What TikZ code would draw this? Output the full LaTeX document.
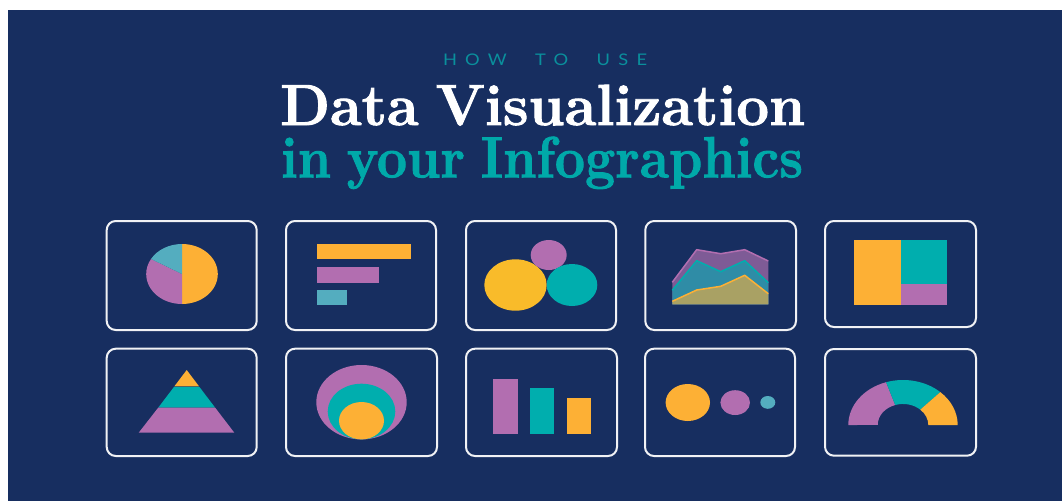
\documentclass[tikz,border=0pt]{standalone}
\usepackage{fontspec}
\usepackage{graphicx}
\setmainfont{Latin Modern Roman}
\newfontfamily\titlefont[BoldFeatures={FakeBold=1.6}]{Latin Modern Roman}
\newfontfamily\kickerfont[LetterSpace=45,WordSpace=2.2]{Lato}
\definecolor{navy}{HTML}{172E60}
\definecolor{vorange}{HTML}{FDB035}
\definecolor{vyellow}{HTML}{F9BB2A}
\definecolor{vpurple}{HTML}{B26EB0}
\definecolor{vteal}{HTML}{00AEAE}
\definecolor{vsky}{HTML}{54ADBF}
\definecolor{titleteal}{HTML}{00A9A9}
\definecolor{kicker}{HTML}{0A8F9C}
\definecolor{areapurple}{HTML}{7E5B96}
\definecolor{areateal}{HTML}{2F8CA6}
\definecolor{areaorange}{HTML}{A9A164}
\tikzset{
  x=1pt,y=-1pt,
  card/.style={draw=white!94!navy,line width=2pt,rounded corners=9pt},
  titletext/.style={inner sep=0pt,anchor=base,font=\titlefont\bfseries\fontsize{58}{58}\selectfont},
  arealine/.style={line width=1.5pt,line join=round},
}
\begin{document}
\begin{tikzpicture}
\useasboundingbox (0,0) rectangle (1062,501);
\fill[white] (0,0) rectangle (1062,501);
\fill[navy] (8,10) rectangle (1062,501);

% titles
\node[inner sep=0pt,anchor=base,text=kicker,font=\kickerfont\fontsize{16}{16}\selectfont] (kick) at (545,65) {\resizebox{204pt}{\height}{HOW TO USE}};
\node[titletext,text=white] (title) at (542.7,125) {\resizebox{525pt}{\height}{Data\hspace{-0.08em} Visualization}};
\node[titletext,text=titleteal] (sub) at (542,177.3) {\resizebox{522pt}{\height}{in\hspace{-0.08em} your\hspace{-0.08em} Infographics}};

% cards
\foreach \xa/\xb/\ya/\yb in {106.7/256.7/221/330, 286/436/221/330, 466/616/221/330, 645.3/796/221/330, 825/976/221/327,
  106.7/256.7/348.7/456, 286/437/348.7/456, 466/617/348.7/456, 645/795/348.7/456, 825/976/349/455.7}
  \draw[card] (\xa,\ya) rectangle (\xb,\yb);

% pie
\begin{scope}[shift={(182,274)}]
  \fill[vorange] (0,0) -- (0,-30) arc[start angle=90,end angle=-90,x radius=35.8,y radius=-30] -- cycle;
  \fill[vpurple] (0,0) -- (0,30) arc[start angle=-90,end angle=-210,x radius=35.8,y radius=-30] -- cycle;
  \fill[vsky] (0,0) -- (-31,-15) arc[start angle=150,end angle=90,x radius=35.8,y radius=-30] -- cycle;
\end{scope}

% horizontal bars
\fill[vorange] (317,243.7) rectangle (411.3,259);
\fill[vpurple] (317,267) rectangle (378.7,282.7);
\fill[vsky] (317,289.7) rectangle (347.3,305);

% bubbles
\fill[vyellow] (515.5,285) ellipse[x radius=31.2,y radius=25.7];
\fill[vpurple] (548.7,255) ellipse[x radius=18,y radius=15];
\fill[vteal] (572,285) ellipse[x radius=25.3,y radius=21];

% stacked area
\fill[areapurple] (672.3,304.3) -- (672.3,282.3) -- (696.7,249.7) -- (720.7,253.7) -- (744.7,249.7) -- (768.3,261) -- (768.3,304.3) -- cycle;
\fill[areateal] (672.3,304.3) -- (672.3,290.3) -- (696.7,260.7) -- (720.7,271.7) -- (744.7,260.7) -- (768.3,282.7) -- (768.3,304.3) -- cycle;
\fill[areaorange] (672.3,304.3) -- (672.3,301.3) -- (696.7,290) -- (720.7,286.3) -- (744.7,275.3) -- (768.3,293.7) -- (768.3,304.3) -- cycle;
\draw[arealine,vpurple] (672.3,282.3) -- (696.7,249.7) -- (720.7,253.7) -- (744.7,249.7) -- (768.3,261);
\draw[arealine,vteal] (672.3,290.3) -- (696.7,260.7) -- (720.7,271.7) -- (744.7,260.7) -- (768.3,282.7);
\draw[arealine,vorange] (672.3,301.3) -- (696.7,290) -- (720.7,286.3) -- (744.7,275.3) -- (768.3,293.7);

% treemap
\fill[white!70!vteal] (900.7,240) rectangle (901.4,305.3);
\fill[white!70!vteal] (901.4,283.6) rectangle (946.7,284.4);
\fill[vorange] (854.3,240) rectangle (900.7,305.3);
\fill[vteal] (901.4,240) rectangle (946.7,283.6);
\fill[vpurple] (901.4,284.4) rectangle (946.7,305.3);

% pyramid
\fill[vorange] (186.7,370) -- (174.3,386.4) -- (199.1,386.4) -- cycle;
\fill[vteal] (174,386.9) -- (199.4,386.9) -- (215.2,407.7) -- (158.2,407.7) -- cycle;
\fill[vpurple] (158.2,407.7) -- (215.2,407.7) -- (234.3,432.7) -- (138.7,432.7) -- cycle;

% nested ellipses
\fill[vpurple] (361.5,402.2) ellipse[x radius=45.2,y radius=37.2];
\fill[vteal] (361.5,411.5) ellipse[x radius=33.8,y radius=27.8];
\fill[vorange] (361.5,420.7) ellipse[x radius=22.5,y radius=18.7];

% vertical bars
\fill[vpurple] (493.3,379.3) rectangle (517.7,433.7);
\fill[vteal] (530,388.3) rectangle (554,433.7);
\fill[vorange] (566.7,398.3) rectangle (590.7,433.7);

% proportional dots
\fill[vorange] (687.8,402.5) ellipse[x radius=22.2,y radius=18.5];
\fill[vpurple] (735.2,402.6) ellipse[x radius=14.8,y radius=12.4];
\fill[vsky] (767.8,402.4) ellipse[x radius=7.5,y radius=6.4];

% gauge
\begin{scope}[shift={(903,425)}]
  \fill[vpurple] (-54.7,0) arc[start angle=180,end angle=108,x radius=54.7,y radius=-45] -- (-7.8,-20) arc[start angle=108,end angle=180,x radius=25.3,y radius=-21] -- cycle;
  \fill[vteal] (-16.9,-42.8) arc[start angle=108,end angle=47,x radius=54.7,y radius=-45] -- (17.25,-15.4) arc[start angle=47,end angle=108,x radius=25.3,y radius=-21] -- cycle;
  \fill[vorange] (37.3,-32.9) arc[start angle=47,end angle=0,x radius=54.7,y radius=-45] -- (25.3,0) arc[start angle=0,end angle=47,x radius=25.3,y radius=-21] -- cycle;
\end{scope}
\end{tikzpicture}
\end{document}
